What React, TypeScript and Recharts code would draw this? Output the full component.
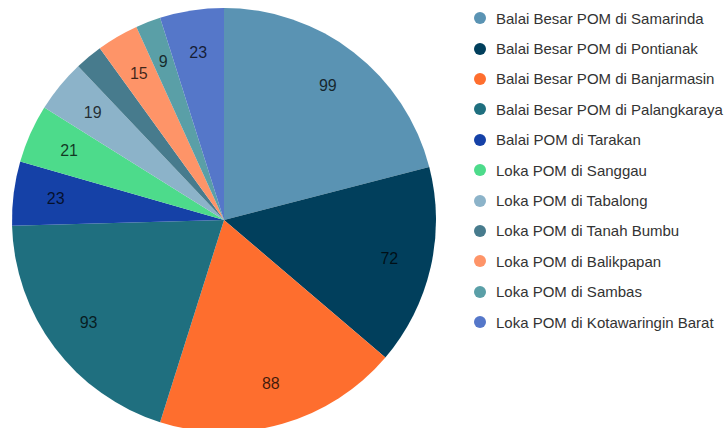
import React from "react";
import { PieChart, Pie, Cell, Legend } from "recharts";

const names = [
  "Balai Besar POM di Samarinda",
  "Balai Besar POM di Pontianak",
  "Balai Besar POM di Banjarmasin",
  "Balai Besar POM di Palangkaraya",
  "Balai POM di Tarakan",
  "Loka POM di Sanggau",
  "Loka POM di Tabalong",
  "Loka POM di Tanah Bumbu",
  "Loka POM di Balikpapan",
  "Loka POM di Sambas",
  "Loka POM di Kotawaringin Barat",
];
const values = [99, 72, 88, 93, 23, 21, 19, 10, 15, 9, 23];
const showLabel = [true, true, true, true, true, true, true, false, true, true, true];
const colors = [
  "#5a93b3",
  "#013f5c",
  "#fe6e2e",
  "#1f6f7f",
  "#1541a7",
  "#4ddb8b",
  "#8cb3c9",
  "#477b8d",
  "#fe9468",
  "#5a9fa7",
  "#5577c9",
];

const data = names.map((name, i) => ({ name, value: values[i] }));

const RADIAN = Math.PI / 180;

const renderLabel = (props: any) => {
  const { cx, cy, midAngle, outerRadius, value, index } = props;
  if (!showLabel[index]) return null;
  const r = outerRadius * 0.8;
  const x = cx + r * Math.cos(-midAngle * RADIAN);
  const y = cy + r * Math.sin(-midAngle * RADIAN);
  return (
    <text
      x={x}
      y={y}
      textAnchor="middle"
      dominantBaseline="central"
      fill="#000"
      fillOpacity={0.75}
      fontSize={16}
      fontFamily="Liberation Sans, Arial, sans-serif"
    >
      {value}
    </text>
  );
};

const renderLegend = () => (
  <div style={{ fontFamily: "Liberation Sans, Arial, sans-serif", fontSize: 15, color: "#333" }}>
    {data.map((d, i) => (
      <div
        key={d.name}
        style={{ display: "flex", alignItems: "center", height: 30.4, whiteSpace: "nowrap" }}
      >
        <span
          style={{
            display: "inline-block",
            width: 12,
            height: 12,
            borderRadius: 6,
            background: colors[i],
            marginRight: 10,
            flexShrink: 0,
          }}
        />
        <span>{d.name}</span>
      </div>
    ))}
  </div>
);

export default function App() {
  return (
    <div style={{ width: 720, height: 420, padding: "8px 0 0 8px", overflow: "visible" }}>
      <style>{"html,body{margin:0;overflow:hidden;}"}</style>
      <PieChart width={720} height={440} margin={{ top: 0, right: 0, bottom: 0, left: 0 }}>
        <Pie
          data={data}
          dataKey="value"
          nameKey="name"
          cx={216}
          cy={212}
          outerRadius={212}
          startAngle={90}
          endAngle={-270}
          stroke="none"
          label={renderLabel}
          labelLine={false}
          isAnimationActive={false}
        >
          {data.map((d, i) => (
            <Cell key={d.name} fill={colors[i]} />
          ))}
        </Pie>
        <Legend
          content={renderLegend}
          layout="vertical"
          verticalAlign="top"
          align="right"
          wrapperStyle={{ position: "absolute", left: 466, top: -5, right: "auto", width: 254 }}
        />
      </PieChart>
    </div>
  );
}
